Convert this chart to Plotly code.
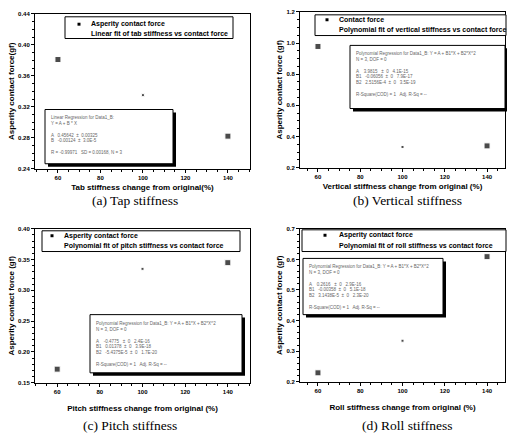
import plotly.graph_objects as go

W, H = 507, 434

# ---- data ----
stiffness_change = [60, 100, 140]
tab_force = [0.381, 0.335, 0.282]
vertical_force = [0.978, 0.333, 0.340]
pitch_force = [0.172, 0.335, 0.345]
roll_force = [0.229, 0.334, 0.609]

captions = ["(a) Tap stiffness", "(b) Vertical stiffness", "(c) Pitch stiffness", "(d) Roll stiffness"]
x_titles = ["Tab stiffness change from original(%)",
            "Vertical stiffness change from original (%)",
            "Pitch stiffness change from original (%)",
            "Roll stiffness change from original (%)"]
y_titles = ["Asperity contact force(gf)", "Asperity contact force (gf)",
            "Asperity contact force (gf)", "Asperity contact force (gf)"]
marker_names = ["Asperity contact force", "Contact force",
                "Asperity contact force", "Asperity contact force"]
fit_names = ["Linear fit of tab stiffness vs contact force",
             "Polynomial fit of vertical stiffness vs contact force",
             "Polynomial fit of pitch stiffness vs contact force",
             "Polynomial fit of roll stiffness vs contact force"]
fit_texts = [
    "Linear Regression for Data1_B:<br>Y = A + B * X<br><br>A   0.45642  ±  0.00325<br>B   -0.00124  ±  3.0E-5<br><br>R = -0.99971   SD = 0.00168, N = 3",
    "Polynomial Regression for Data1_B: Y = A + B1*X + B2*X^2<br>N = 3, DOF = 0<br><br>A    3.9815   ±  0   4.1E-15<br>B1   -0.06056  ±  0   7.9E-17<br>B2   2.5156E-4  ±  0   3.5E-19<br><br>R-Square(COD) = 1   Adj. R-Sq = --",
    "Polynomial Regression for Data1_B: Y = A + B1*X + B2*X^2<br>N = 3, DOF = 0<br><br>A    -0.4775   ±  0   2.4E-16<br>B1   0.01378  ±  0   3.9E-18<br>B2   -5.4375E-5  ±  0   1.7E-20<br><br>R-Square(COD) = 1   Adj. R-Sq = --",
    "Polynomial Regression for Data1_B: Y = A + B1*X + B2*X^2<br>N = 3, DOF = 0<br><br>A    0.2616   ±  0   2.9E-16<br>B1   -0.00358  ±  0   5.1E-18<br>B2   3.1438E-5  ±  0   2.3E-20<br><br>R-Square(COD) = 1   Adj. R-Sq = --",
]
y_ranges = [[0.24, 0.44], [0.2, 1.2], [0.15, 0.40], [0.2, 0.7]]
y_dticks = [0.04, 0.2, 0.05, 0.1]
y_formats = [".2f", ".1f", ".2f", ".1f"]
x_ranges = [[49.2, 150.4], [51.5, 148.5], [49.6, 150.4], [51.5, 148.5]]
all_forces = [tab_force, vertical_force, pitch_force, roll_force]

# ---- layout geometry (pixels) ----
rects = [(35, 250, 11, 168), (300, 505, 9, 167), (35, 250, 229, 385), (300, 505, 229, 384)]
legend_box = [(65, 233, 14, 36), (315, 506, 12, 33), (42, 240, 231, 252), (302, 506, 230, 252)]
legend_mx = [79, 327, 52, 325]
legend_tx = [89, 337, 62, 337]
legend_rows = [(21.5, 31), (17, 27), (236, 246), (235.5, 246)]
fit_box = [(45, 173, 108, 163), (350, 505, 43, 107), (90, 242, 316, 375), (303, 443, 259, 316)]
caption_pos = [(135, 200), (407, 200), (130, 428), (407, 428)]
x_title_standoff = [4, 4, 11, 11]


def px(x):
    return x / W


def py(y):
    return 1 - y / H


fig = go.Figure()
shapes = []
annotations = []
layout = {}
title_font = dict(family="Liberation Sans", size=8, color="black", weight="bold")

for i in range(4):
    n = "" if i == 0 else str(i + 1)
    xa, ya = "x" + n, "y" + n
    l, r, t, b = rects[i]
    fig.add_trace(go.Scatter(
        x=stiffness_change, y=all_forces[i], mode="markers",
        marker=dict(symbol="square", size=[6, 3, 6], color="black"),
        name=marker_names[i], xaxis=xa, yaxis=ya, showlegend=False))

    axis_common = dict(showline=True, linecolor="black", linewidth=1, mirror=True,
                       ticks="outside", ticklen=3, tickcolor="black", showgrid=False,
                       zeroline=False,
                       tickfont=dict(family="Liberation Sans", size=6, color="black", weight="bold"),
                       minor=dict(ticks="outside", ticklen=2, tickcolor="black"))
    layout["xaxis" + n] = dict(domain=[px(l), px(r)], range=x_ranges[i], anchor=ya,
                               tickvals=[60, 80, 100, 120, 140],
                               ticktext=["60", "80", "100", "120", "140"],
                               title=dict(text=x_titles[i], standoff=x_title_standoff[i], font=title_font),
                               **axis_common)
    layout["yaxis" + n] = dict(domain=[py(b), py(t)], range=y_ranges[i], anchor=xa,
                               dtick=y_dticks[i], tick0=y_ranges[i][0], tickformat=y_formats[i],
                               title=dict(text=y_titles[i], standoff=2, font=title_font),
                               **axis_common)

    # legend (drawn manually)
    ll, lr, lt, lb = legend_box[i]
    shapes.append(dict(type="rect", xref="paper", yref="paper",
                       x0=px(ll), x1=px(lr), y0=py(lb), y1=py(lt),
                       fillcolor="white", line=dict(width=1, color="black")))
    mx = legend_mx[i]
    r1, r2 = legend_rows[i]
    shapes.append(dict(type="rect", xref="paper", yref="paper",
                       x0=px(mx - 1.5), x1=px(mx + 1.5), y0=py(r1 + 1.5), y1=py(r1 - 1.5),
                       fillcolor="black", line=dict(width=0)))
    for txt, ry in ((marker_names[i], r1), (fit_names[i], r2)):
        annotations.append(dict(text=txt, xref="paper", yref="paper",
                                x=px(legend_tx[i]), y=py(ry), xanchor="left", yanchor="middle",
                                showarrow=False,
                                font=dict(family="Liberation Sans", size=7, color="black", weight="bold")))

    # fit result box with shadow
    fl, fr, ft, fb = fit_box[i]
    shapes.append(dict(type="rect", xref="paper", yref="paper",
                       x0=px(fl + 3), x1=px(fr + 3), y0=py(fb + 3), y1=py(ft + 3),
                       fillcolor="black", line=dict(width=0)))
    shapes.append(dict(type="rect", xref="paper", yref="paper",
                       x0=px(fl), x1=px(fr), y0=py(fb), y1=py(ft),
                       fillcolor="white", line=dict(width=1, color="black")))
    annotations.append(dict(text=fit_texts[i], xref="paper", yref="paper",
                            x=px(fl + 4), y=py(ft + 4), xanchor="left", yanchor="top",
                            align="left", showarrow=False,
                            font=dict(family="Liberation Sans", size=4.5, color="#666")))

    cx, cy = caption_pos[i]
    annotations.append(dict(text=captions[i], xref="paper", yref="paper",
                            x=px(cx), y=py(cy), xanchor="center", yanchor="middle",
                            showarrow=False,
                            font=dict(family="Liberation Serif", size=13.5, color="black")))

fig.update_layout(width=W, height=H, margin=dict(l=0, r=0, t=0, b=0),
                  paper_bgcolor="white", plot_bgcolor="white",
                  shapes=shapes, annotations=annotations, **layout)

fig.write_html("out.html")
